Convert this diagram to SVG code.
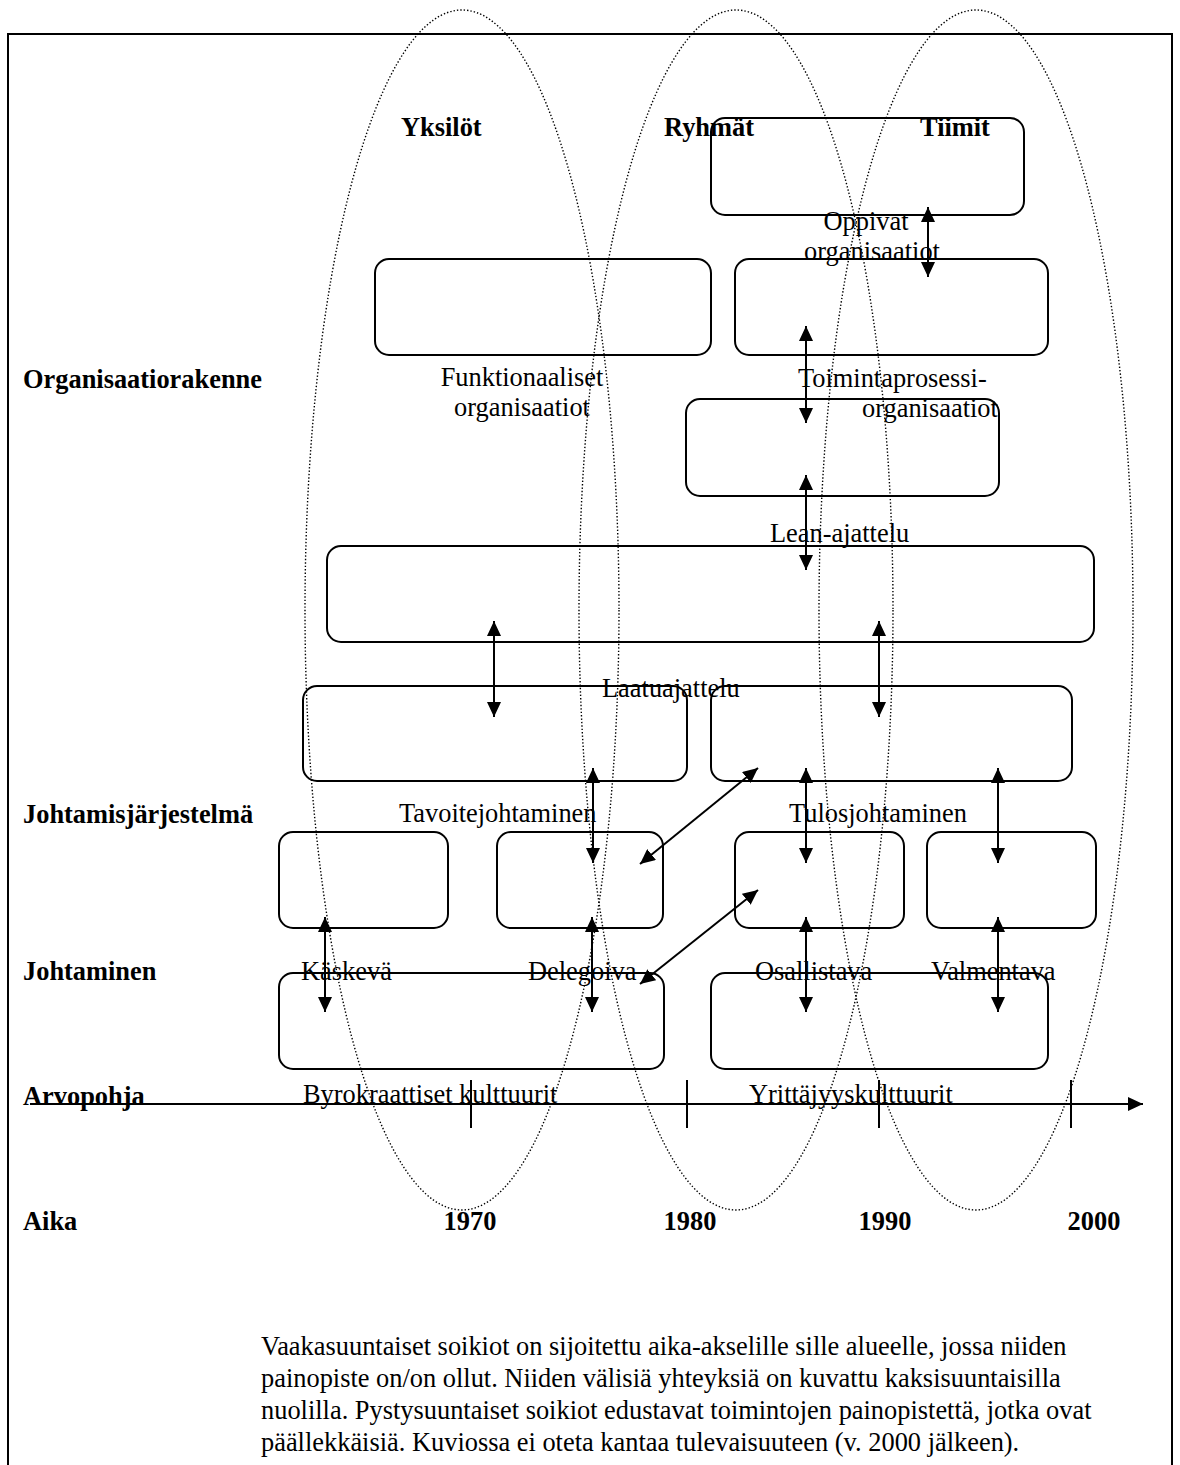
<svg xmlns="http://www.w3.org/2000/svg" width="1180" height="1465" viewBox="0 0 1180 1465">
<style>
.box{fill:none;stroke:#000;stroke-width:2}
.ov{fill:none;stroke:#000;stroke-width:1.4;stroke-dasharray:1.4 2}
.t{font-family:"Liberation Serif","Times New Roman",serif;font-size:26.4px;fill:#000}
.b{font-weight:bold}
.m{text-anchor:middle}
.arr{fill:none;stroke:#000;stroke-width:2;marker-start:url(#ah);marker-end:url(#ah)}
.tick{stroke:#000;stroke-width:2}
</style>
<defs>
<marker id="ah" viewBox="0 0 15 14" refX="15" refY="7" markerWidth="15" markerHeight="14" markerUnits="userSpaceOnUse" orient="auto-start-reverse">
<path d="M0,0 L15,7 L0,14 z" fill="#000"/>
</marker>
</defs>
<rect x="0" y="0" width="1180" height="1465" fill="#fff"/>
<rect id="frame" x="8" y="34" width="1164" height="1480" fill="none" stroke="#000" stroke-width="2"/>

<g id="ovals">
<ellipse id="oval-yksilot" class="ov" cx="462" cy="610" rx="157" ry="600"/>
<ellipse id="oval-ryhmat" class="ov" cx="736" cy="610" rx="157" ry="600"/>
<ellipse id="oval-tiimit" class="ov" cx="976" cy="610" rx="157" ry="600"/>
</g>

<g id="row-labels">
<text class="t b" x="401" y="136">Yksilöt</text>
<text class="t b" x="664" y="136">Ryhmät</text>
<text class="t b" x="920" y="136">Tiimit</text>
<text class="t b" x="23" y="388">Organisaatiorakenne</text>
<text class="t b" x="23" y="823">Johtamisjärjestelmä</text>
<text class="t b" x="23" y="980">Johtaminen</text>
<text class="t b" x="23" y="1105">Arvopohja</text>
<text class="t b" x="23" y="1230">Aika</text>
<text class="t b m" x="470" y="1230">1970</text>
<text class="t b m" x="690" y="1230">1980</text>
<text class="t b m" x="885" y="1230">1990</text>
<text class="t b m" x="1094" y="1230">2000</text>
</g>

<g id="n-oppivat"><rect class="box" x="711" y="118" width="313" height="97" rx="14"/>
<text class="t m" x="866" y="230">Oppivat</text><text class="t m" x="872" y="260">organisaatiot</text></g>
<g id="n-funktionaaliset"><rect class="box" x="375" y="259" width="336" height="96" rx="14"/>
<text class="t m" x="522" y="386">Funktionaaliset</text><text class="t m" x="522" y="416">organisaatiot</text></g>
<g id="n-toimintaprosessi"><rect class="box" x="735" y="259" width="313" height="96" rx="14"/>
<text class="t" x="798" y="387">Toimintaprosessi-</text><text class="t" x="862" y="417">organisaatiot</text></g>
<g id="n-lean"><rect class="box" x="686" y="399" width="313" height="97" rx="14"/>
<text class="t" x="770" y="542">Lean-ajattelu</text></g>
<g id="n-laatu"><rect class="box" x="327" y="546" width="767" height="96" rx="14"/>
<text class="t" x="602" y="697">Laatuajattelu</text></g>
<g id="n-tavoite"><rect class="box" x="303" y="686" width="384" height="95" rx="14"/>
<text class="t" x="399" y="822">Tavoitejohtaminen</text></g>
<g id="n-tulos"><rect class="box" x="711" y="686" width="361" height="95" rx="14"/>
<text class="t" x="789" y="822">Tulosjohtaminen</text></g>
<g id="n-kaskeva"><rect class="box" x="279" y="832" width="169" height="96" rx="14"/>
<text class="t" x="301" y="980">Käskevä</text></g>
<g id="n-delegoiva"><rect class="box" x="497" y="832" width="166" height="96" rx="14"/>
<text class="t" x="528" y="980">Delegoiva</text></g>
<g id="n-osallistava"><rect class="box" x="735" y="832" width="169" height="96" rx="14"/>
<text class="t" x="755" y="980">Osallistava</text></g>
<g id="n-valmentava"><rect class="box" x="927" y="832" width="169" height="96" rx="14"/>
<text class="t" x="931" y="980">Valmentava</text></g>
<g id="n-byrokraattiset"><rect class="box" x="279" y="973" width="385" height="96" rx="14"/>
<text class="t" x="303" y="1103">Byrokraattiset kulttuurit</text></g>
<g id="n-yrittajyys"><rect class="box" x="711" y="973" width="337" height="96" rx="14"/>
<text class="t" x="749" y="1103">Yrittäjyyskulttuurit</text></g>

<g id="connectors">
<line class="arr" x1="928" y1="207" x2="928" y2="277"/>
<line class="arr" x1="806" y1="326" x2="806" y2="423"/>
<line class="arr" x1="806" y1="475" x2="806" y2="570"/>
<line class="arr" x1="494" y1="621" x2="494" y2="717"/>
<line class="arr" x1="879" y1="621" x2="879" y2="717"/>
<line class="arr" x1="593" y1="768" x2="593" y2="863"/>
<line class="arr" x1="758" y1="768" x2="640" y2="864"/>
<line class="arr" x1="806" y1="768" x2="806" y2="863"/>
<line class="arr" x1="998" y1="768" x2="998" y2="863"/>
<line class="arr" x1="325" y1="917" x2="325" y2="1012"/>
<line class="arr" x1="592" y1="917" x2="592" y2="1012"/>
<line class="arr" x1="758" y1="890" x2="640" y2="984"/>
<line class="arr" x1="806" y1="917" x2="806" y2="1012"/>
<line class="arr" x1="998" y1="917" x2="998" y2="1012"/>
</g>

<g id="time-axis">
<line x1="30" y1="1104" x2="1143" y2="1104" stroke="#000" stroke-width="2" marker-end="url(#ah)"/>
<line class="tick" x1="471" y1="1080" x2="471" y2="1128"/>
<line class="tick" x1="687" y1="1080" x2="687" y2="1128"/>
<line class="tick" x1="879" y1="1080" x2="879" y2="1128"/>
<line class="tick" x1="1071" y1="1080" x2="1071" y2="1128"/>
</g>

<g id="caption">
<text class="t" x="261" y="1355">Vaakasuuntaiset soikiot on sijoitettu aika-akselille sille alueelle, jossa niiden</text>
<text class="t" x="261" y="1387">painopiste on/on ollut. Niiden välisiä yhteyksiä on kuvattu kaksisuuntaisilla</text>
<text class="t" x="261" y="1419">nuolilla. Pystysuuntaiset soikiot edustavat toimintojen painopistettä, jotka ovat</text>
<text class="t" x="261" y="1451">päällekkäisiä. Kuviossa ei oteta kantaa tulevaisuuteen (v. 2000 jälkeen).</text>
</g>
</svg>
